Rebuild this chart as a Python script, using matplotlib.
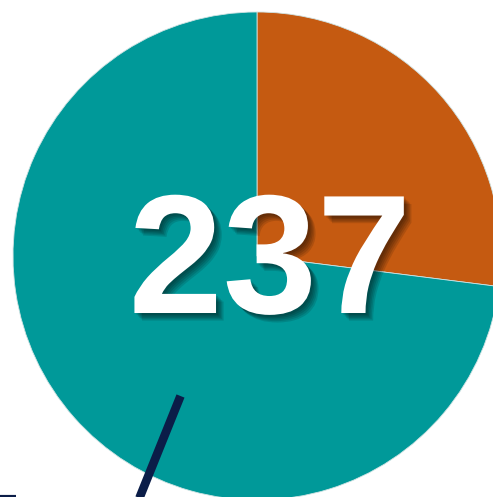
import matplotlib
matplotlib.use("Agg")
import matplotlib.pyplot as plt
import matplotlib.patheffects as pe

# Slice data (orange share, teal share)
labels = ["Orange", "Teal"]
shares = [27, 73]
colors = ["#C55A11", "#009999"]
center_value = "237"

W, H = 493, 497
fig = plt.figure(figsize=(W / 100, H / 100), dpi=100)
ax = fig.add_axes([0, 0, 1, 1])

# pie, centred slightly right of the figure centre, clipped by the edges
ax.pie(shares, colors=colors, startangle=90, counterclock=False,
       center=(257, 241), radius=244, frame=True,
       wedgeprops=dict(edgecolor="#cfe3e3", linewidth=0.6))
ax.set_xlim(0, W)
ax.set_ylim(0, H)
ax.set_aspect("equal")
ax.axis("off")

# dark needle line
ax.plot([180.5, 135], [101, -12], color="#0B1D48", linewidth=6.2,
        solid_capstyle="butt")
# small dark sliver in the corner
ax.plot([0, 16], [0.5, 0.5], color="#0B1D48", linewidth=3,
        solid_capstyle="butt")

t = ax.text(270, 228, center_value, ha="center", va="center",
            fontsize=122, fontweight="bold", color="white",
            family=["Liberation Sans", "DejaVu Sans"])
# soft drop shadow
shadow = [pe.SimplePatchShadow(offset=(dx, -dx), shadow_rgbFace="black", alpha=0.12)
          for dx in (1.5, 2.5, 3.5, 4.5, 5.5)]
t.set_path_effects(shadow + [pe.Normal()])

fig.savefig("out.png", dpi=100)
